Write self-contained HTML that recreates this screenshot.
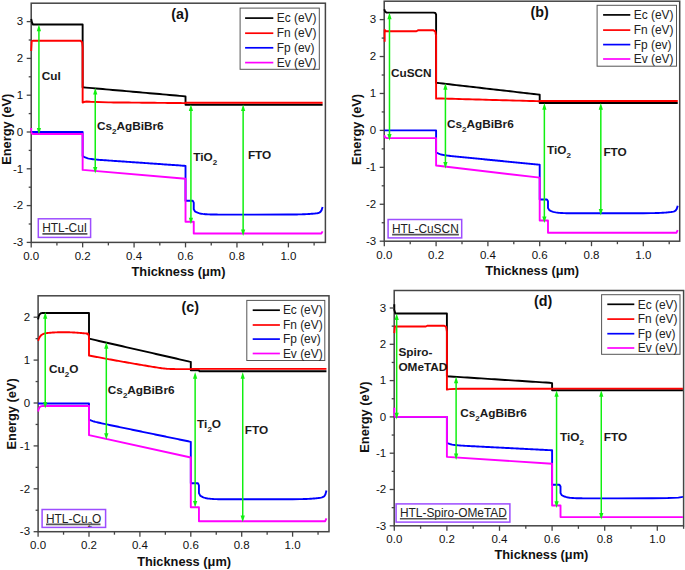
<!DOCTYPE html>
<html><head><meta charset="utf-8"><style>
html,body{margin:0;padding:0;background:#fff;}
body{width:685px;height:570px;overflow:hidden;}
svg{display:block;}
text{font-family:"Liberation Sans",sans-serif;fill:#111;}
.tk{font-size:11.5px;}
.ax{font-size:12.8px;font-weight:bold;}
.ti{font-size:14.3px;font-weight:bold;}
.lg{font-size:11.95px;fill:#222;}
.htl{font-size:11.9px;fill:#222;}
.ly{font-size:11.8px;font-weight:bold;fill:#1a1a1a;}
</style></head><body>
<svg width="685" height="570" viewBox="0 0 685 570">
<rect width="685" height="570" fill="#fff"/>
<clipPath id="clipa"><rect x="30.0" y="3.7" width="294.7" height="239.20000000000002"/></clipPath>
<rect x="31.2" y="3.2" width="294.2" height="239.20000000000002" fill="none" stroke="#444" stroke-width="1.5"/>
<g clip-path="url(#clipa)" fill="none" stroke-width="1.9" stroke-linejoin="round">
<path d="M31.20,19.02L31.97,22.34L33.00,24.54L82.64,24.54L82.64,87.29L85.98,87.58L89.33,87.88L92.67,88.17L96.01,88.47L99.36,88.76L102.70,89.05L106.05,89.35L109.39,89.64L112.73,89.94L116.08,90.23L119.42,90.53L122.76,90.82L126.11,91.12L129.45,91.41L132.79,91.70L136.14,92.00L139.48,92.29L142.82,92.59L146.17,92.88L149.51,93.18L152.86,93.47L156.20,93.76L159.54,94.06L162.89,94.35L166.23,94.65L169.57,94.94L172.92,95.24L176.26,95.53L179.60,95.83L182.95,96.12L185.52,96.49L185.52,104.77L322.61,104.77" stroke="#000000"/>
<path d="M31.20,51.04L31.71,41.10L32.74,40.81L80.58,40.81L82.13,42.21L82.64,47.36L82.64,102.56L83.93,102.01L86.50,101.46L90.36,101.82L108.36,102.38L110.93,102.40L113.50,102.43L116.08,102.45L118.65,102.47L121.22,102.50L123.79,102.52L126.36,102.55L128.94,102.57L131.51,102.60L134.08,102.62L136.65,102.65L139.22,102.67L141.80,102.69L144.37,102.72L146.94,102.74L149.51,102.77L152.08,102.79L154.66,102.82L157.23,102.84L159.80,102.87L162.37,102.89L164.94,102.92L167.52,102.94L170.09,102.96L172.66,102.99L175.23,103.01L177.80,103.04L180.38,103.06L182.95,103.09L185.52,103.11L185.52,102.74L322.61,102.74" stroke="#ff0000"/>
<path d="M31.20,132.00L82.64,132.00L82.64,155.92L83.93,156.80L85.21,157.45L86.50,157.95L87.78,158.33L89.07,158.63L90.36,158.87L91.64,159.06L92.93,159.23L94.21,159.37L95.50,159.50L96.79,159.62L98.07,159.73L99.36,159.83L100.64,159.93L101.93,160.03L103.22,160.12L104.50,160.22L105.79,160.31L107.07,160.40L108.36,160.49L109.65,160.58L110.93,160.67L112.22,160.76L113.50,160.85L114.79,160.94L116.08,161.03L117.36,161.12L118.65,161.21L119.93,161.30L121.22,161.39L122.51,161.48L123.79,161.57L125.08,161.66L126.36,161.74L127.65,161.83L128.94,161.92L130.22,162.01L131.51,162.10L132.79,162.19L134.08,162.28L135.37,162.37L136.65,162.46L137.94,162.55L139.22,162.64L140.51,162.73L141.80,162.82L143.08,162.91L144.37,163.00L145.65,163.09L146.94,163.17L148.23,163.26L149.51,163.35L150.80,163.44L152.08,163.53L153.37,163.62L154.66,163.71L155.94,163.80L157.23,163.89L158.51,163.98L159.80,164.07L161.09,164.16L162.37,164.25L163.66,164.34L164.94,164.43L166.23,164.52L167.52,164.60L168.80,164.69L170.09,164.78L171.37,164.87L172.66,164.96L173.95,165.05L175.23,165.14L176.52,165.23L177.80,165.32L179.09,165.41L180.38,165.50L181.66,165.59L182.95,165.68L184.23,165.77L185.52,165.86L185.52,200.82L192.72,200.82L193.75,202.66L193.75,209.28L195.04,211.46L196.32,212.16L197.61,212.70L198.89,213.13L200.18,213.46L201.47,213.71L202.75,213.91L204.04,214.07L205.32,214.19L206.61,214.28L207.90,214.36L209.18,214.41L210.47,214.46L211.75,214.49L213.04,214.52L214.33,214.54L215.61,214.56L216.90,214.57L218.18,214.58L219.47,214.59L220.76,214.59L222.04,214.60L223.33,214.60L224.61,214.61L225.90,214.61L227.19,214.61L228.47,214.61L229.76,214.61L231.04,214.61L232.33,214.61L233.62,214.61L234.90,214.61L236.19,214.61L237.47,214.62L238.76,214.62L240.05,214.62L241.33,214.62L242.62,214.62L243.90,214.62L249.82,214.62L288.40,214.51L296.12,214.43L297.22,214.43L298.32,214.42L299.43,214.40L300.53,214.38L301.64,214.35L302.74,214.32L303.84,214.28L304.95,214.23L306.05,214.17L307.15,214.11L308.26,214.05L309.36,213.97L310.47,213.89L311.57,213.80L312.67,213.71L313.78,213.61L314.88,213.50L315.98,213.36L317.09,213.20L318.19,212.98L319.30,212.60L320.40,211.89L321.50,210.40L322.61,207.07" stroke="#0000ff"/>
<path d="M31.20,127.95L31.20,132.00L31.97,133.66L33.26,134.02L82.64,134.02L82.64,169.90L185.52,178.74L185.52,221.79L193.75,221.79L193.75,233.57L321.32,233.57L322.61,231.36" stroke="#ff00ff"/>
</g>
<line x1="38.92" y1="30.14" x2="38.92" y2="128.90" stroke="#10f010" stroke-width="1.5"/><path d="M38.92,24.54L36.82,31.14L41.02,31.14Z" fill="#10f010"/><path d="M38.92,134.50L36.82,127.90L41.02,127.90Z" fill="#10f010"/>
<line x1="95.24" y1="93.44" x2="95.24" y2="167.91" stroke="#10f010" stroke-width="1.5"/><path d="M95.24,87.84L93.14,94.44L97.34,94.44Z" fill="#10f010"/><path d="M95.24,173.51L93.14,166.91L97.34,166.91Z" fill="#10f010"/>
<line x1="190.92" y1="110.00" x2="190.92" y2="218.69" stroke="#10f010" stroke-width="1.5"/><path d="M190.92,104.40L188.82,111.00L193.02,111.00Z" fill="#10f010"/><path d="M190.92,224.29L188.82,217.69L193.02,217.69Z" fill="#10f010"/>
<line x1="243.13" y1="110.00" x2="243.13" y2="230.47" stroke="#10f010" stroke-width="1.5"/><path d="M243.13,104.40L241.03,111.00L245.23,111.00Z" fill="#10f010"/><path d="M243.13,236.07L241.03,229.47L245.23,229.47Z" fill="#10f010"/>
<line x1="26.7" y1="242.40" x2="31.2" y2="242.40" stroke="#444" stroke-width="1.3"/>
<text x="23.2" y="246.10" text-anchor="end" class="tk">-3</text>
<line x1="28.7" y1="224.00" x2="31.2" y2="224.00" stroke="#444" stroke-width="1.3"/>
<line x1="26.7" y1="205.60" x2="31.2" y2="205.60" stroke="#444" stroke-width="1.3"/>
<text x="23.2" y="209.30" text-anchor="end" class="tk">-2</text>
<line x1="28.7" y1="187.20" x2="31.2" y2="187.20" stroke="#444" stroke-width="1.3"/>
<line x1="26.7" y1="168.80" x2="31.2" y2="168.80" stroke="#444" stroke-width="1.3"/>
<text x="23.2" y="172.50" text-anchor="end" class="tk">-1</text>
<line x1="28.7" y1="150.40" x2="31.2" y2="150.40" stroke="#444" stroke-width="1.3"/>
<line x1="26.7" y1="132.00" x2="31.2" y2="132.00" stroke="#444" stroke-width="1.3"/>
<text x="23.2" y="135.70" text-anchor="end" class="tk">0</text>
<line x1="28.7" y1="113.60" x2="31.2" y2="113.60" stroke="#444" stroke-width="1.3"/>
<line x1="26.7" y1="95.20" x2="31.2" y2="95.20" stroke="#444" stroke-width="1.3"/>
<text x="23.2" y="98.90" text-anchor="end" class="tk">1</text>
<line x1="28.7" y1="76.80" x2="31.2" y2="76.80" stroke="#444" stroke-width="1.3"/>
<line x1="26.7" y1="58.40" x2="31.2" y2="58.40" stroke="#444" stroke-width="1.3"/>
<text x="23.2" y="62.10" text-anchor="end" class="tk">2</text>
<line x1="28.7" y1="40.00" x2="31.2" y2="40.00" stroke="#444" stroke-width="1.3"/>
<line x1="26.7" y1="21.60" x2="31.2" y2="21.60" stroke="#444" stroke-width="1.3"/>
<text x="23.2" y="25.30" text-anchor="end" class="tk">3</text>
<line x1="31.20" y1="242.4" x2="31.20" y2="247.40" stroke="#444" stroke-width="1.3"/>
<text x="31.20" y="259.90" text-anchor="middle" class="tk">0.0</text>
<line x1="56.92" y1="242.4" x2="56.92" y2="245.40" stroke="#444" stroke-width="1.3"/>
<line x1="82.64" y1="242.4" x2="82.64" y2="247.40" stroke="#444" stroke-width="1.3"/>
<text x="82.64" y="259.90" text-anchor="middle" class="tk">0.2</text>
<line x1="108.36" y1="242.4" x2="108.36" y2="245.40" stroke="#444" stroke-width="1.3"/>
<line x1="134.08" y1="242.4" x2="134.08" y2="247.40" stroke="#444" stroke-width="1.3"/>
<text x="134.08" y="259.90" text-anchor="middle" class="tk">0.4</text>
<line x1="159.80" y1="242.4" x2="159.80" y2="245.40" stroke="#444" stroke-width="1.3"/>
<line x1="185.52" y1="242.4" x2="185.52" y2="247.40" stroke="#444" stroke-width="1.3"/>
<text x="185.52" y="259.90" text-anchor="middle" class="tk">0.6</text>
<line x1="211.24" y1="242.4" x2="211.24" y2="245.40" stroke="#444" stroke-width="1.3"/>
<line x1="236.96" y1="242.4" x2="236.96" y2="247.40" stroke="#444" stroke-width="1.3"/>
<text x="236.96" y="259.90" text-anchor="middle" class="tk">0.8</text>
<line x1="262.68" y1="242.4" x2="262.68" y2="245.40" stroke="#444" stroke-width="1.3"/>
<line x1="288.40" y1="242.4" x2="288.40" y2="247.40" stroke="#444" stroke-width="1.3"/>
<text x="288.40" y="259.90" text-anchor="middle" class="tk">1.0</text>
<line x1="314.12" y1="242.4" x2="314.12" y2="245.40" stroke="#444" stroke-width="1.3"/>
<text x="178.5" y="275.6" text-anchor="middle" class="ax">Thickness (μm)</text>
<text transform="translate(10.7,129.2) rotate(-90)" text-anchor="middle" class="ax">Energy (eV)</text>
<text x="171.3" y="18.8" class="ti">(a)</text>
<rect x="240.1" y="8.1" width="79.2" height="61.2" fill="#fff" stroke="#555" stroke-width="1"/>
<line x1="245.1" y1="18.1" x2="273.3" y2="18.1" stroke="#000000" stroke-width="1.7"/>
<text x="276.7" y="22.3" class="lg">Ec (eV)</text>
<line x1="245.1" y1="33.2" x2="273.3" y2="33.2" stroke="#ff0000" stroke-width="1.7"/>
<text x="276.7" y="37.4" class="lg">Fn (eV)</text>
<line x1="245.1" y1="47.8" x2="273.3" y2="47.8" stroke="#0000ff" stroke-width="1.7"/>
<text x="276.7" y="52.0" class="lg">Fp (ev)</text>
<line x1="245.1" y1="62.6" x2="273.3" y2="62.6" stroke="#ff00ff" stroke-width="1.7"/>
<text x="276.7" y="66.8" class="lg">Ev (eV)</text>
<rect x="38.3" y="218.8" width="52.3" height="18.6" fill="#fff" stroke="#9d4dff" stroke-width="1.5"/>
<text x="42.199999999999996" y="232.20000000000002" class="htl">HTL-CuI</text>
<line x1="42.4" y1="233.9" x2="87.4" y2="233.9" stroke="#555" stroke-width="1.6"/>
<text x="41.8" y="80.4" class="ly">CuI</text>
<text x="96.9" y="130.0" class="ly">Cs<tspan font-size="8" dy="4">2</tspan><tspan dy="-4">AgBiBr6</tspan></text>
<text x="193.2" y="160.5" class="ly">TiO<tspan font-size="8" dy="4">2</tspan></text>
<text x="247.9" y="159.3" class="ly">FTO</text>
<clipPath id="clipb"><rect x="383.0" y="1.7" width="296.00000000000006" height="240.0"/></clipPath>
<rect x="384.2" y="1.2" width="295.50000000000006" height="240.0" fill="none" stroke="#444" stroke-width="1.5"/>
<g clip-path="url(#clipb)" fill="none" stroke-width="1.9" stroke-linejoin="round">
<path d="M384.30,9.27L385.08,11.49L386.37,12.59L433.51,12.59L435.32,12.96L436.10,14.44L436.10,82.76L439.47,83.15L442.83,83.54L446.20,83.92L449.57,84.31L452.94,84.70L456.30,85.09L459.67,85.47L463.04,85.86L466.40,86.25L469.77,86.64L473.14,87.03L476.50,87.41L479.87,87.80L483.24,88.19L486.61,88.58L489.97,88.96L493.34,89.35L496.71,89.74L500.07,90.13L503.44,90.52L506.81,90.90L510.17,91.29L513.54,91.68L516.91,92.07L520.27,92.45L523.64,92.84L527.01,93.23L530.38,93.62L533.74,94.01L537.11,94.39L539.70,94.76L539.70,103.07L677.75,103.07" stroke="#000000"/>
<path d="M384.69,41.77L384.69,29.95L385.85,31.24L416.42,31.24L417.97,30.32L433.51,30.32L435.32,31.43L436.10,36.23L436.10,98.64L438.69,98.46L442.06,98.55L445.42,98.64L448.79,98.73L452.16,98.82L455.53,98.92L458.89,99.01L462.26,99.10L465.63,99.19L468.99,99.29L472.36,99.38L475.73,99.47L479.09,99.56L482.46,99.66L485.83,99.75L489.20,99.84L492.56,99.93L495.93,100.03L499.30,100.12L502.66,100.21L506.03,100.30L509.40,100.39L512.76,100.49L516.13,100.58L519.50,100.67L522.87,100.76L526.23,100.86L529.60,100.95L532.97,101.04L536.33,101.13L539.70,101.23L539.70,101.04L677.75,101.04" stroke="#ff0000"/>
<path d="M384.30,130.40L436.10,130.40L436.10,152.19L437.40,153.00L438.69,153.62L439.99,154.10L441.28,154.48L442.57,154.79L443.87,155.05L445.17,155.27L446.46,155.46L447.75,155.63L449.05,155.80L450.35,155.95L451.64,156.09L452.94,156.23L454.23,156.37L455.53,156.50L456.82,156.63L458.12,156.76L459.41,156.89L460.71,157.02L462.00,157.14L463.30,157.27L464.59,157.40L465.88,157.53L467.18,157.65L468.48,157.78L469.77,157.91L471.06,158.03L472.36,158.16L473.66,158.29L474.95,158.41L476.25,158.54L477.54,158.67L478.84,158.79L480.13,158.92L481.43,159.05L482.72,159.17L484.01,159.30L485.31,159.43L486.61,159.55L487.90,159.68L489.20,159.81L490.49,159.93L491.79,160.06L493.08,160.19L494.38,160.31L495.67,160.44L496.97,160.57L498.26,160.69L499.56,160.82L500.85,160.95L502.14,161.07L503.44,161.20L504.74,161.33L506.03,161.45L507.33,161.58L508.62,161.71L509.92,161.83L511.21,161.96L512.50,162.09L513.80,162.21L515.10,162.34L516.39,162.47L517.69,162.59L518.98,162.72L520.27,162.85L521.57,162.97L522.87,163.10L524.16,163.23L525.46,163.35L526.75,163.48L528.05,163.61L529.34,163.73L530.63,163.86L531.93,163.99L533.23,164.11L534.52,164.24L535.82,164.37L537.11,164.49L538.40,164.62L539.70,164.74L539.70,199.46L546.95,199.46L547.99,201.31L547.99,207.95L549.28,210.14L550.58,210.84L551.87,211.39L553.17,211.81L554.46,212.14L555.76,212.40L557.05,212.60L558.35,212.76L559.64,212.88L560.94,212.97L562.23,213.05L563.53,213.11L564.82,213.15L566.12,213.19L567.41,213.21L568.71,213.23L570.00,213.25L571.30,213.26L572.59,213.27L573.89,213.28L575.18,213.29L576.48,213.29L577.77,213.29L579.07,213.30L580.36,213.30L581.66,213.30L582.95,213.30L584.25,213.30L585.54,213.30L586.84,213.31L588.13,213.31L589.43,213.31L590.72,213.31L592.02,213.31L593.31,213.31L594.61,213.31L595.90,213.31L597.20,213.31L598.49,213.31L604.45,213.31L643.30,213.20L651.07,213.12L652.18,213.12L653.29,213.11L654.40,213.09L655.52,213.07L656.63,213.04L657.74,213.01L658.85,212.97L659.96,212.92L661.07,212.86L662.19,212.80L663.30,212.74L664.41,212.66L665.52,212.58L666.63,212.49L667.74,212.40L668.85,212.30L669.97,212.18L671.08,212.05L672.19,211.89L673.30,211.66L674.41,211.29L675.52,210.58L676.64,209.08L677.75,205.74" stroke="#0000ff"/>
<path d="M384.30,135.20L385.08,137.42L386.89,138.16L436.10,138.16L436.10,165.48L539.70,177.67L539.70,220.51L547.99,220.51L547.99,232.70L676.45,232.70L677.75,230.11" stroke="#ff00ff"/>
</g>
<line x1="389.48" y1="18.19" x2="389.48" y2="135.06" stroke="#10f010" stroke-width="1.5"/><path d="M389.48,12.59L387.38,19.19L391.58,19.19Z" fill="#10f010"/><path d="M389.48,140.66L387.38,134.06L391.58,134.06Z" fill="#10f010"/>
<line x1="445.42" y1="88.73" x2="445.42" y2="163.12" stroke="#10f010" stroke-width="1.5"/><path d="M445.42,83.13L443.32,89.73L447.52,89.73Z" fill="#10f010"/><path d="M445.42,168.72L443.32,162.12L447.52,162.12Z" fill="#10f010"/>
<line x1="544.36" y1="108.67" x2="544.36" y2="217.41" stroke="#10f010" stroke-width="1.5"/><path d="M544.36,103.07L542.26,109.67L546.46,109.67Z" fill="#10f010"/><path d="M544.36,223.01L542.26,216.41L546.46,216.41Z" fill="#10f010"/>
<line x1="600.82" y1="108.67" x2="600.82" y2="210.02" stroke="#10f010" stroke-width="1.5"/><path d="M600.82,103.07L598.72,109.67L602.92,109.67Z" fill="#10f010"/><path d="M600.82,215.62L598.72,209.02L602.92,209.02Z" fill="#10f010"/>
<line x1="379.7" y1="241.19" x2="384.2" y2="241.19" stroke="#444" stroke-width="1.3"/>
<text x="376.2" y="244.89" text-anchor="end" class="tk">-3</text>
<line x1="381.7" y1="222.73" x2="384.2" y2="222.73" stroke="#444" stroke-width="1.3"/>
<line x1="379.7" y1="204.26" x2="384.2" y2="204.26" stroke="#444" stroke-width="1.3"/>
<text x="376.2" y="207.96" text-anchor="end" class="tk">-2</text>
<line x1="381.7" y1="185.80" x2="384.2" y2="185.80" stroke="#444" stroke-width="1.3"/>
<line x1="379.7" y1="167.33" x2="384.2" y2="167.33" stroke="#444" stroke-width="1.3"/>
<text x="376.2" y="171.03" text-anchor="end" class="tk">-1</text>
<line x1="381.7" y1="148.87" x2="384.2" y2="148.87" stroke="#444" stroke-width="1.3"/>
<line x1="379.7" y1="130.40" x2="384.2" y2="130.40" stroke="#444" stroke-width="1.3"/>
<text x="376.2" y="134.10" text-anchor="end" class="tk">0</text>
<line x1="381.7" y1="111.94" x2="384.2" y2="111.94" stroke="#444" stroke-width="1.3"/>
<line x1="379.7" y1="93.47" x2="384.2" y2="93.47" stroke="#444" stroke-width="1.3"/>
<text x="376.2" y="97.17" text-anchor="end" class="tk">1</text>
<line x1="381.7" y1="75.01" x2="384.2" y2="75.01" stroke="#444" stroke-width="1.3"/>
<line x1="379.7" y1="56.54" x2="384.2" y2="56.54" stroke="#444" stroke-width="1.3"/>
<text x="376.2" y="60.24" text-anchor="end" class="tk">2</text>
<line x1="381.7" y1="38.08" x2="384.2" y2="38.08" stroke="#444" stroke-width="1.3"/>
<line x1="379.7" y1="19.61" x2="384.2" y2="19.61" stroke="#444" stroke-width="1.3"/>
<text x="376.2" y="23.31" text-anchor="end" class="tk">3</text>
<line x1="384.30" y1="241.2" x2="384.30" y2="246.20" stroke="#444" stroke-width="1.3"/>
<text x="384.30" y="258.70" text-anchor="middle" class="tk">0.0</text>
<line x1="410.20" y1="241.2" x2="410.20" y2="244.20" stroke="#444" stroke-width="1.3"/>
<line x1="436.10" y1="241.2" x2="436.10" y2="246.20" stroke="#444" stroke-width="1.3"/>
<text x="436.10" y="258.70" text-anchor="middle" class="tk">0.2</text>
<line x1="462.00" y1="241.2" x2="462.00" y2="244.20" stroke="#444" stroke-width="1.3"/>
<line x1="487.90" y1="241.2" x2="487.90" y2="246.20" stroke="#444" stroke-width="1.3"/>
<text x="487.90" y="258.70" text-anchor="middle" class="tk">0.4</text>
<line x1="513.80" y1="241.2" x2="513.80" y2="244.20" stroke="#444" stroke-width="1.3"/>
<line x1="539.70" y1="241.2" x2="539.70" y2="246.20" stroke="#444" stroke-width="1.3"/>
<text x="539.70" y="258.70" text-anchor="middle" class="tk">0.6</text>
<line x1="565.60" y1="241.2" x2="565.60" y2="244.20" stroke="#444" stroke-width="1.3"/>
<line x1="591.50" y1="241.2" x2="591.50" y2="246.20" stroke="#444" stroke-width="1.3"/>
<text x="591.50" y="258.70" text-anchor="middle" class="tk">0.8</text>
<line x1="617.40" y1="241.2" x2="617.40" y2="244.20" stroke="#444" stroke-width="1.3"/>
<line x1="643.30" y1="241.2" x2="643.30" y2="246.20" stroke="#444" stroke-width="1.3"/>
<text x="643.30" y="258.70" text-anchor="middle" class="tk">1.0</text>
<line x1="669.20" y1="241.2" x2="669.20" y2="244.20" stroke="#444" stroke-width="1.3"/>
<text x="532.2" y="274.6" text-anchor="middle" class="ax">Thickness (μm)</text>
<text transform="translate(360.5,129.5) rotate(-90)" text-anchor="middle" class="ax">Energy (eV)</text>
<text x="530.5" y="16.6" class="ti">(b)</text>
<rect x="597.1" y="5.3" width="79.4" height="60.9" fill="#fff" stroke="#555" stroke-width="1"/>
<line x1="603.1" y1="14.9" x2="630.3" y2="14.9" stroke="#000000" stroke-width="1.7"/>
<text x="633.7" y="19.1" class="lg">Ec (eV)</text>
<line x1="603.1" y1="30.1" x2="630.3" y2="30.1" stroke="#ff0000" stroke-width="1.7"/>
<text x="633.7" y="34.3" class="lg">Fn (eV)</text>
<line x1="603.1" y1="44.6" x2="630.3" y2="44.6" stroke="#0000ff" stroke-width="1.7"/>
<text x="633.7" y="48.8" class="lg">Fp (ev)</text>
<line x1="603.1" y1="59.0" x2="630.3" y2="59.0" stroke="#ff00ff" stroke-width="1.7"/>
<text x="633.7" y="63.2" class="lg">Ev (eV)</text>
<rect x="388.1" y="219.5" width="73.6" height="18.4" fill="#fff" stroke="#9d4dff" stroke-width="1.5"/>
<text x="392.0" y="232.9" class="htl">HTL-CuSCN</text>
<line x1="392.1" y1="234.6" x2="458.9" y2="234.6" stroke="#555" stroke-width="1.6"/>
<text x="391.0" y="77.2" class="ly">CuSCN</text>
<text x="447.0" y="128.2" class="ly">Cs<tspan font-size="8" dy="4">2</tspan><tspan dy="-4">AgBiBr6</tspan></text>
<text x="547.0" y="153.6" class="ly">TiO<tspan font-size="8" dy="4">2</tspan></text>
<text x="603.4" y="155.8" class="ly">FTO</text>
<clipPath id="clipc"><rect x="36.9" y="296.3" width="291.4" height="235.90000000000003"/></clipPath>
<rect x="38.1" y="295.8" width="290.9" height="235.90000000000003" fill="none" stroke="#444" stroke-width="1.5"/>
<g clip-path="url(#clipc)" fill="none" stroke-width="1.9" stroke-linejoin="round">
<path d="M38.10,319.35L38.61,316.81L39.12,315.28L39.63,314.35L40.14,313.78L40.65,313.44L41.15,313.23L41.66,313.10L42.17,313.03L42.68,312.98L43.19,312.95L43.70,312.94L89.00,312.91L89.00,338.65L92.35,339.42L95.70,340.18L99.05,340.95L102.40,341.71L105.75,342.48L109.11,343.24L112.46,344.01L115.81,344.77L119.16,345.54L122.51,346.30L125.86,347.07L129.21,347.83L132.56,348.60L135.91,349.36L139.26,350.13L142.61,350.89L145.97,351.66L149.32,352.42L152.67,353.19L156.02,353.95L159.37,354.72L162.72,355.48L166.07,356.25L169.42,357.01L172.77,357.78L176.12,358.54L179.47,359.31L182.83,360.07L186.18,360.84L189.53,361.60L190.80,361.82L190.80,370.18L198.94,370.18L199.45,371.25L326.45,371.25" stroke="#000000"/>
<path d="M38.10,340.80L38.95,338.53L39.80,336.93L40.65,335.81L41.49,335.01L42.34,334.44L43.19,334.02L44.04,333.71L44.89,333.47L45.73,333.29L46.58,333.14L47.43,333.02L48.28,332.92L49.13,332.83L49.98,332.75L50.83,332.68L51.67,332.62L52.52,332.56L53.37,332.51L54.22,332.46L55.07,332.42L55.92,332.38L56.76,332.35L57.61,332.32L58.46,332.29L59.31,332.27L60.16,332.25L61.01,332.23L61.85,332.22L62.70,332.22L63.55,332.22L64.40,332.22L65.25,332.22L66.09,332.23L66.94,332.25L67.79,332.27L68.64,332.29L69.49,332.31L70.34,332.34L71.19,332.38L72.03,332.42L72.88,332.46L73.73,332.50L74.58,332.55L75.43,332.60L76.28,332.65L77.12,332.71L77.97,332.77L78.82,332.83L79.67,332.90L80.52,332.97L81.37,333.03L82.21,333.11L83.06,333.18L83.91,333.25L84.76,333.33L85.61,333.40L86.46,333.48L87.30,333.56L88.15,333.64L86.46,333.59L88.24,334.36L89.00,336.50L89.00,355.51L90.27,355.75L91.55,355.99L92.82,356.23L94.09,356.47L95.36,356.71L96.64,356.95L97.91,357.19L99.18,357.43L100.45,357.67L101.72,357.90L103.00,358.14L104.27,358.37L105.54,358.61L106.81,358.84L108.09,359.07L109.36,359.31L110.63,359.54L111.91,359.77L113.18,360.00L114.45,360.23L115.72,360.46L117.00,360.69L118.27,360.91L119.54,361.14L120.81,361.37L122.09,361.59L123.36,361.82L124.63,362.04L125.90,362.27L127.17,362.49L128.45,362.71L129.72,362.94L130.99,363.16L132.26,363.38L133.54,363.60L134.81,363.82L136.08,364.04L137.36,364.26L138.63,364.47L139.90,364.69L141.17,364.91L142.45,365.12L143.72,365.34L144.99,365.55L146.26,365.76L147.54,365.98L148.81,366.19L150.08,366.40L151.35,366.61L152.62,366.82L153.90,367.03L155.17,367.23L156.44,367.43L157.72,367.63L158.99,367.82L160.26,368.01L161.53,368.19L162.81,368.35L164.08,368.50L165.35,368.63L166.62,368.75L167.90,368.84L169.17,368.91L170.44,368.97L171.71,369.01L172.99,369.04L174.26,369.06L175.53,369.08L176.80,369.09L178.08,369.09L179.35,369.10L180.62,369.10L181.89,369.10L183.17,369.11L184.44,369.11L185.71,369.11L186.98,369.11L188.26,369.11L189.53,369.11L190.80,369.11L190.80,368.89L326.45,368.89" stroke="#ff0000"/>
<path d="M38.10,403.43L89.00,403.43L89.00,419.52L90.27,420.13L91.55,420.64L92.82,421.08L94.09,421.47L95.36,421.83L96.64,422.16L97.91,422.47L99.18,422.77L100.45,423.05L101.72,423.33L103.00,423.61L104.27,423.88L105.54,424.15L106.81,424.42L108.09,424.69L109.36,424.95L110.63,425.22L111.91,425.48L113.18,425.75L114.45,426.01L115.72,426.28L117.00,426.54L118.27,426.80L119.54,427.07L120.81,427.33L122.09,427.59L123.36,427.86L124.63,428.12L125.90,428.38L127.17,428.65L128.45,428.91L129.72,429.18L130.99,429.44L132.26,429.70L133.54,429.97L134.81,430.23L136.08,430.49L137.36,430.76L138.63,431.02L139.90,431.28L141.17,431.55L142.45,431.81L143.72,432.07L144.99,432.34L146.26,432.60L147.54,432.86L148.81,433.13L150.08,433.39L151.35,433.66L152.62,433.92L153.90,434.18L155.17,434.45L156.44,434.71L157.72,434.97L158.99,435.24L160.26,435.50L161.53,435.76L162.81,436.03L164.08,436.29L165.35,436.55L166.62,436.82L167.90,437.08L169.17,437.34L170.44,437.61L171.71,437.87L172.99,438.14L174.26,438.40L175.53,438.66L176.80,438.93L178.08,439.19L179.35,439.45L180.62,439.72L181.89,439.98L183.17,440.24L184.44,440.51L185.71,440.77L186.98,441.03L188.26,441.30L189.53,441.56L190.80,441.82L190.80,483.22L197.93,483.22L198.94,485.37L198.94,493.09L200.22,495.64L201.49,496.45L202.76,497.08L204.03,497.57L205.31,497.96L206.58,498.26L207.85,498.49L209.12,498.67L210.40,498.81L211.67,498.92L212.94,499.01L214.21,499.08L215.49,499.13L216.76,499.17L218.03,499.20L219.30,499.22L220.58,499.24L221.85,499.26L223.12,499.27L224.39,499.28L225.67,499.29L226.94,499.29L228.21,499.30L229.48,499.30L230.76,499.30L232.03,499.30L233.30,499.30L234.57,499.31L235.85,499.31L237.12,499.31L238.39,499.31L239.66,499.31L240.94,499.31L242.21,499.31L243.48,499.31L244.75,499.31L246.03,499.31L247.30,499.31L248.57,499.31L254.42,499.31L292.60,499.18L300.24,499.10L301.33,499.09L302.42,499.08L303.51,499.06L304.60,499.04L305.70,499.00L306.79,498.96L307.88,498.91L308.97,498.86L310.07,498.79L311.16,498.72L312.25,498.65L313.34,498.56L314.43,498.47L315.53,498.36L316.62,498.26L317.71,498.14L318.80,498.00L319.90,497.85L320.99,497.66L322.08,497.40L323.17,496.96L324.26,496.14L325.36,494.40L326.45,490.52" stroke="#0000ff"/>
<path d="M38.10,411.58L38.61,409.39L39.12,408.05L39.63,407.25L40.14,406.76L40.65,406.46L41.15,406.28L41.66,406.17L42.17,406.11L42.68,406.06L43.19,406.04L43.70,406.03L89.00,406.00L89.00,435.18L190.80,457.48L190.80,507.25L198.94,507.25L198.94,521.19L325.18,521.19L326.45,518.40" stroke="#ff00ff"/>
</g>
<line x1="45.23" y1="317.65" x2="45.23" y2="402.90" stroke="#10f010" stroke-width="1.5"/><path d="M45.23,312.05L43.13,318.65L47.33,318.65Z" fill="#10f010"/><path d="M45.23,408.50L43.13,401.90L47.33,401.90Z" fill="#10f010"/>
<line x1="106.31" y1="347.68" x2="106.31" y2="434.22" stroke="#10f010" stroke-width="1.5"/><path d="M106.31,342.08L104.21,348.68L108.41,348.68Z" fill="#10f010"/><path d="M106.31,439.82L104.21,433.22L108.41,433.22Z" fill="#10f010"/>
<line x1="195.13" y1="377.71" x2="195.13" y2="502.00" stroke="#10f010" stroke-width="1.5"/><path d="M195.13,372.11L193.03,378.71L197.23,378.71Z" fill="#10f010"/><path d="M195.13,507.60L193.03,501.00L197.23,501.00Z" fill="#10f010"/>
<line x1="242.72" y1="377.71" x2="242.72" y2="516.59" stroke="#10f010" stroke-width="1.5"/><path d="M242.72,372.11L240.62,378.71L244.82,378.71Z" fill="#10f010"/><path d="M242.72,522.19L240.62,515.59L244.82,515.59Z" fill="#10f010"/>
<line x1="33.6" y1="531.70" x2="38.1" y2="531.70" stroke="#444" stroke-width="1.3"/>
<text x="30.1" y="535.40" text-anchor="end" class="tk">-3</text>
<line x1="35.6" y1="510.25" x2="38.1" y2="510.25" stroke="#444" stroke-width="1.3"/>
<line x1="33.6" y1="488.80" x2="38.1" y2="488.80" stroke="#444" stroke-width="1.3"/>
<text x="30.1" y="492.50" text-anchor="end" class="tk">-2</text>
<line x1="35.6" y1="467.35" x2="38.1" y2="467.35" stroke="#444" stroke-width="1.3"/>
<line x1="33.6" y1="445.90" x2="38.1" y2="445.90" stroke="#444" stroke-width="1.3"/>
<text x="30.1" y="449.60" text-anchor="end" class="tk">-1</text>
<line x1="35.6" y1="424.45" x2="38.1" y2="424.45" stroke="#444" stroke-width="1.3"/>
<line x1="33.6" y1="403.00" x2="38.1" y2="403.00" stroke="#444" stroke-width="1.3"/>
<text x="30.1" y="406.70" text-anchor="end" class="tk">0</text>
<line x1="35.6" y1="381.55" x2="38.1" y2="381.55" stroke="#444" stroke-width="1.3"/>
<line x1="33.6" y1="360.10" x2="38.1" y2="360.10" stroke="#444" stroke-width="1.3"/>
<text x="30.1" y="363.80" text-anchor="end" class="tk">1</text>
<line x1="35.6" y1="338.65" x2="38.1" y2="338.65" stroke="#444" stroke-width="1.3"/>
<line x1="33.6" y1="317.20" x2="38.1" y2="317.20" stroke="#444" stroke-width="1.3"/>
<text x="30.1" y="320.90" text-anchor="end" class="tk">2</text>
<line x1="38.10" y1="531.7" x2="38.10" y2="536.70" stroke="#444" stroke-width="1.3"/>
<text x="38.10" y="549.20" text-anchor="middle" class="tk">0.0</text>
<line x1="63.55" y1="531.7" x2="63.55" y2="534.70" stroke="#444" stroke-width="1.3"/>
<line x1="89.00" y1="531.7" x2="89.00" y2="536.70" stroke="#444" stroke-width="1.3"/>
<text x="89.00" y="549.20" text-anchor="middle" class="tk">0.2</text>
<line x1="114.45" y1="531.7" x2="114.45" y2="534.70" stroke="#444" stroke-width="1.3"/>
<line x1="139.90" y1="531.7" x2="139.90" y2="536.70" stroke="#444" stroke-width="1.3"/>
<text x="139.90" y="549.20" text-anchor="middle" class="tk">0.4</text>
<line x1="165.35" y1="531.7" x2="165.35" y2="534.70" stroke="#444" stroke-width="1.3"/>
<line x1="190.80" y1="531.7" x2="190.80" y2="536.70" stroke="#444" stroke-width="1.3"/>
<text x="190.80" y="549.20" text-anchor="middle" class="tk">0.6</text>
<line x1="216.25" y1="531.7" x2="216.25" y2="534.70" stroke="#444" stroke-width="1.3"/>
<line x1="241.70" y1="531.7" x2="241.70" y2="536.70" stroke="#444" stroke-width="1.3"/>
<text x="241.70" y="549.20" text-anchor="middle" class="tk">0.8</text>
<line x1="267.15" y1="531.7" x2="267.15" y2="534.70" stroke="#444" stroke-width="1.3"/>
<line x1="292.60" y1="531.7" x2="292.60" y2="536.70" stroke="#444" stroke-width="1.3"/>
<text x="292.60" y="549.20" text-anchor="middle" class="tk">1.0</text>
<line x1="318.05" y1="531.7" x2="318.05" y2="534.70" stroke="#444" stroke-width="1.3"/>
<text x="184.1" y="565.6" text-anchor="middle" class="ax">Thickness (μm)</text>
<text transform="translate(15.7,413.9) rotate(-90)" text-anchor="middle" class="ax">Energy (eV)</text>
<text x="181.5" y="311.5" class="ti">(c)</text>
<rect x="246.8" y="300.4" width="78.0" height="60.1" fill="#fff" stroke="#555" stroke-width="1"/>
<line x1="252.7" y1="310.2" x2="279.9" y2="310.2" stroke="#000000" stroke-width="1.7"/>
<text x="282.9" y="314.4" class="lg">Ec (eV)</text>
<line x1="252.7" y1="325.0" x2="279.9" y2="325.0" stroke="#ff0000" stroke-width="1.7"/>
<text x="282.9" y="329.2" class="lg">Fn (eV)</text>
<line x1="252.7" y1="339.1" x2="279.9" y2="339.1" stroke="#0000ff" stroke-width="1.7"/>
<text x="282.9" y="343.3" class="lg">Fp (ev)</text>
<line x1="252.7" y1="353.5" x2="279.9" y2="353.5" stroke="#ff00ff" stroke-width="1.7"/>
<text x="282.9" y="357.7" class="lg">Ev (eV)</text>
<rect x="42.1" y="509.5" width="63.5" height="17.9" fill="#fff" stroke="#9d4dff" stroke-width="1.5"/>
<text x="46.0" y="522.9" class="htl">HTL-Cu<tspan font-size="8" dy="4">2</tspan><tspan dy="-4">O</tspan></text>
<line x1="46" y1="524.4" x2="100.5" y2="524.4" stroke="#555" stroke-width="1.6"/>
<text x="49.1" y="372.5" class="ly">Cu<tspan font-size="8" dy="4">2</tspan><tspan dy="-4">O</tspan></text>
<text x="107.8" y="393.6" class="ly">Cs<tspan font-size="8" dy="4">2</tspan><tspan dy="-4">AgBiBr6</tspan></text>
<text x="197.1" y="427.9" class="ly">Ti<tspan font-size="8" dy="4">2</tspan><tspan dy="-4">O</tspan></text>
<text x="244.8" y="434.0" class="ly">FTO</text>
<clipPath id="clipd"><rect x="393.0" y="291.0" width="289.90000000000003" height="235.29999999999995"/></clipPath>
<rect x="394.2" y="290.5" width="289.40000000000003" height="235.29999999999995" fill="none" stroke="#444" stroke-width="1.5"/>
<g clip-path="url(#clipd)" fill="none" stroke-width="1.9" stroke-linejoin="round">
<path d="M394.30,304.37L394.30,309.81L395.35,313.52L446.90,313.52L446.90,376.24L450.32,376.46L453.74,376.68L457.16,376.90L460.58,377.12L464.00,377.33L467.41,377.55L470.83,377.77L474.25,377.99L477.67,378.20L481.09,378.42L484.51,378.64L487.93,378.86L491.35,379.08L494.77,379.29L498.19,379.51L501.60,379.73L505.02,379.95L508.44,380.16L511.86,380.38L515.28,380.60L518.70,380.82L522.12,381.04L525.54,381.25L528.96,381.47L532.38,381.69L535.79,381.91L539.21,382.12L542.63,382.34L546.05,382.56L549.47,382.78L552.10,383.14L552.10,390.22L683.60,390.22" stroke="#000000"/>
<path d="M394.30,333.05L394.83,326.51L425.86,326.51L427.18,325.79L444.27,325.79L446.11,326.88L446.90,331.59L446.90,389.67L449.53,389.13L460.05,388.77L463.12,388.77L466.19,388.77L469.25,388.77L472.32,388.77L475.39,388.77L478.46,388.77L481.53,388.77L484.60,388.77L487.67,388.77L490.73,388.77L493.80,388.77L496.87,388.77L499.94,388.77L503.01,388.77L506.07,388.77L509.14,388.77L512.21,388.77L515.28,388.77L518.35,388.77L521.42,388.77L524.49,388.77L527.55,388.77L530.62,388.77L533.69,388.77L536.76,388.77L539.83,388.77L542.89,388.77L545.96,388.77L549.03,388.77L552.10,388.77L552.10,388.59L683.60,388.59" stroke="#ff0000"/>
<path d="M394.30,416.90L446.90,416.90L446.90,442.67L448.22,443.37L449.53,443.89L450.85,444.28L452.16,444.58L453.48,444.82L454.79,445.01L456.11,445.16L457.42,445.29L458.74,445.40L460.05,445.50L461.37,445.59L462.68,445.67L464.00,445.75L465.31,445.83L466.62,445.90L467.94,445.97L469.25,446.04L470.57,446.11L471.88,446.18L473.20,446.25L474.52,446.32L475.83,446.38L477.15,446.45L478.46,446.52L479.78,446.59L481.09,446.66L482.41,446.72L483.72,446.79L485.04,446.86L486.35,446.93L487.67,446.99L488.98,447.06L490.30,447.13L491.61,447.19L492.93,447.26L494.24,447.33L495.56,447.40L496.87,447.46L498.19,447.53L499.50,447.60L500.81,447.67L502.13,447.73L503.45,447.80L504.76,447.87L506.08,447.94L507.39,448.00L508.71,448.07L510.02,448.14L511.34,448.21L512.65,448.27L513.97,448.34L515.28,448.41L516.60,448.48L517.91,448.54L519.23,448.61L520.54,448.68L521.86,448.75L523.17,448.81L524.49,448.88L525.80,448.95L527.12,449.02L528.43,449.08L529.75,449.15L531.06,449.22L532.38,449.28L533.69,449.35L535.00,449.42L536.32,449.49L537.63,449.55L538.95,449.62L540.26,449.69L541.58,449.76L542.89,449.82L544.21,449.89L545.52,449.96L546.84,450.03L548.15,450.09L549.47,450.16L550.78,450.23L552.10,450.30L552.10,484.78L559.46,484.78L560.52,486.60L560.52,493.13L561.83,495.28L563.15,495.97L564.46,496.51L565.78,496.92L567.09,497.25L568.41,497.50L569.72,497.70L571.04,497.85L572.35,497.97L573.67,498.07L574.98,498.14L576.30,498.19L577.61,498.24L578.93,498.27L580.24,498.30L581.56,498.32L582.87,498.34L584.19,498.35L585.50,498.36L586.82,498.37L588.13,498.37L589.45,498.38L590.76,498.38L592.08,498.38L593.39,498.39L594.71,498.39L596.02,498.39L597.34,498.39L598.65,498.39L599.97,498.39L601.28,498.39L602.60,498.39L603.91,498.39L605.23,498.39L606.54,498.39L607.86,498.39L609.17,498.39L610.49,498.39L611.80,498.39L617.85,498.39L652.04,498.21L667.82,498.03L678.34,497.67L683.60,496.76" stroke="#0000ff"/>
<path d="M394.30,407.82L394.30,416.90L446.90,416.90L446.90,456.83L552.10,463.73L552.10,505.47L560.52,505.47L560.52,517.09L683.60,517.09" stroke="#ff00ff"/>
</g>
<line x1="396.67" y1="319.12" x2="396.67" y2="413.80" stroke="#10f010" stroke-width="1.5"/><path d="M396.67,313.52L394.57,320.12L398.77,320.12Z" fill="#10f010"/><path d="M396.67,419.40L394.57,412.80L398.77,412.80Z" fill="#10f010"/>
<line x1="456.11" y1="382.21" x2="456.11" y2="454.46" stroke="#10f010" stroke-width="1.5"/><path d="M456.11,376.61L454.00,383.21L458.21,383.21Z" fill="#10f010"/><path d="M456.11,460.06L454.00,453.46L458.21,453.46Z" fill="#10f010"/>
<line x1="556.57" y1="395.82" x2="556.57" y2="502.37" stroke="#10f010" stroke-width="1.5"/><path d="M556.57,390.22L554.47,396.82L558.67,396.82Z" fill="#10f010"/><path d="M556.57,507.97L554.47,501.37L558.67,501.37Z" fill="#10f010"/>
<line x1="601.28" y1="395.82" x2="601.28" y2="513.99" stroke="#10f010" stroke-width="1.5"/><path d="M601.28,390.22L599.18,396.82L603.38,396.82Z" fill="#10f010"/><path d="M601.28,519.59L599.18,512.99L603.38,512.99Z" fill="#10f010"/>
<line x1="389.7" y1="525.80" x2="394.2" y2="525.80" stroke="#444" stroke-width="1.3"/>
<text x="386.2" y="529.50" text-anchor="end" class="tk">-3</text>
<line x1="391.7" y1="507.65" x2="394.2" y2="507.65" stroke="#444" stroke-width="1.3"/>
<line x1="389.7" y1="489.50" x2="394.2" y2="489.50" stroke="#444" stroke-width="1.3"/>
<text x="386.2" y="493.20" text-anchor="end" class="tk">-2</text>
<line x1="391.7" y1="471.35" x2="394.2" y2="471.35" stroke="#444" stroke-width="1.3"/>
<line x1="389.7" y1="453.20" x2="394.2" y2="453.20" stroke="#444" stroke-width="1.3"/>
<text x="386.2" y="456.90" text-anchor="end" class="tk">-1</text>
<line x1="391.7" y1="435.05" x2="394.2" y2="435.05" stroke="#444" stroke-width="1.3"/>
<line x1="389.7" y1="416.90" x2="394.2" y2="416.90" stroke="#444" stroke-width="1.3"/>
<text x="386.2" y="420.60" text-anchor="end" class="tk">0</text>
<line x1="391.7" y1="398.75" x2="394.2" y2="398.75" stroke="#444" stroke-width="1.3"/>
<line x1="389.7" y1="380.60" x2="394.2" y2="380.60" stroke="#444" stroke-width="1.3"/>
<text x="386.2" y="384.30" text-anchor="end" class="tk">1</text>
<line x1="391.7" y1="362.45" x2="394.2" y2="362.45" stroke="#444" stroke-width="1.3"/>
<line x1="389.7" y1="344.30" x2="394.2" y2="344.30" stroke="#444" stroke-width="1.3"/>
<text x="386.2" y="348.00" text-anchor="end" class="tk">2</text>
<line x1="391.7" y1="326.15" x2="394.2" y2="326.15" stroke="#444" stroke-width="1.3"/>
<line x1="389.7" y1="308.00" x2="394.2" y2="308.00" stroke="#444" stroke-width="1.3"/>
<text x="386.2" y="311.70" text-anchor="end" class="tk">3</text>
<line x1="394.30" y1="525.8" x2="394.30" y2="530.80" stroke="#444" stroke-width="1.3"/>
<text x="394.30" y="543.30" text-anchor="middle" class="tk">0.0</text>
<line x1="420.60" y1="525.8" x2="420.60" y2="528.80" stroke="#444" stroke-width="1.3"/>
<line x1="446.90" y1="525.8" x2="446.90" y2="530.80" stroke="#444" stroke-width="1.3"/>
<text x="446.90" y="543.30" text-anchor="middle" class="tk">0.2</text>
<line x1="473.20" y1="525.8" x2="473.20" y2="528.80" stroke="#444" stroke-width="1.3"/>
<line x1="499.50" y1="525.8" x2="499.50" y2="530.80" stroke="#444" stroke-width="1.3"/>
<text x="499.50" y="543.30" text-anchor="middle" class="tk">0.4</text>
<line x1="525.80" y1="525.8" x2="525.80" y2="528.80" stroke="#444" stroke-width="1.3"/>
<line x1="552.10" y1="525.8" x2="552.10" y2="530.80" stroke="#444" stroke-width="1.3"/>
<text x="552.10" y="543.30" text-anchor="middle" class="tk">0.6</text>
<line x1="578.40" y1="525.8" x2="578.40" y2="528.80" stroke="#444" stroke-width="1.3"/>
<line x1="604.70" y1="525.8" x2="604.70" y2="530.80" stroke="#444" stroke-width="1.3"/>
<text x="604.70" y="543.30" text-anchor="middle" class="tk">0.8</text>
<line x1="631.00" y1="525.8" x2="631.00" y2="528.80" stroke="#444" stroke-width="1.3"/>
<line x1="657.30" y1="525.8" x2="657.30" y2="530.80" stroke="#444" stroke-width="1.3"/>
<text x="657.30" y="543.30" text-anchor="middle" class="tk">1.0</text>
<line x1="683.60" y1="525.8" x2="683.60" y2="528.80" stroke="#444" stroke-width="1.3"/>
<text x="541.4" y="559.0" text-anchor="middle" class="ax">Thickness (μm)</text>
<text transform="translate(369.2,417.1) rotate(-90)" text-anchor="middle" class="ax">Energy (eV)</text>
<text x="534.0" y="305.8" class="ti">(d)</text>
<rect x="601.6" y="294.7" width="78.4" height="59.6" fill="#fff" stroke="#555" stroke-width="1"/>
<line x1="607.3" y1="304.3" x2="634.3" y2="304.3" stroke="#000000" stroke-width="1.7"/>
<text x="637.7" y="308.5" class="lg">Ec (eV)</text>
<line x1="607.3" y1="319.1" x2="634.3" y2="319.1" stroke="#ff0000" stroke-width="1.7"/>
<text x="637.7" y="323.3" class="lg">Fn (eV)</text>
<line x1="607.3" y1="333.7" x2="634.3" y2="333.7" stroke="#0000ff" stroke-width="1.7"/>
<text x="637.7" y="337.9" class="lg">Fp (ev)</text>
<line x1="607.3" y1="348.0" x2="634.3" y2="348.0" stroke="#ff00ff" stroke-width="1.7"/>
<text x="637.7" y="352.2" class="lg">Ev (eV)</text>
<rect x="396.1" y="503.9" width="113.8" height="18.2" fill="#fff" stroke="#9d4dff" stroke-width="1.5"/>
<text x="400.0" y="517.3" class="htl">HTL-Spiro-OMeTAD</text>
<line x1="399.9" y1="518.8" x2="506.8" y2="518.8" stroke="#555" stroke-width="1.6"/>
<text x="398.4" y="356.0" class="ly">Spiro-</text>
<text x="398.4" y="371.4" class="ly">OMeTAD</text>
<text x="460.2" y="417.0" class="ly">Cs<tspan font-size="8" dy="4">2</tspan><tspan dy="-4">AgBiBr6</tspan></text>
<text x="560.1" y="440.6" class="ly">TiO<tspan font-size="8" dy="4">2</tspan></text>
<text x="603.8" y="441.0" class="ly">FTO</text>
</svg></body></html>
